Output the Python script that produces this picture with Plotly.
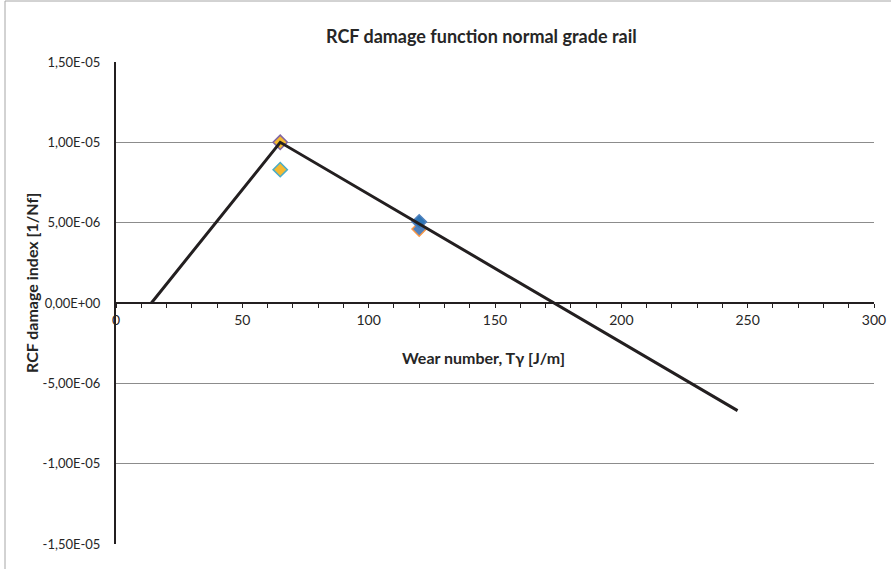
import plotly.graph_objects as go

# Damage function (piecewise linear)
func_x = [14, 65, 246]
func_y = [0.0, 1.0e-5, -6.7e-6]

# Measured points
pts_x = [120, 120, 65, 65]
pts_y = [4.6e-6, 5.05e-6, 8.3e-6, 1.0e-5]
pts_fill = ["#4F81BD", "#2E75B6", "#F5B930", "#F5B930"]
pts_edge = ["#F79646", "#4F81BD", "#4BACC6", "#8064A2"]

x_ticks = [0, 50, 100, 150, 200, 250, 300]
y_ticks = [-1.5e-5, -1.0e-5, -5.0e-6, 0.0, 5.0e-6, 1.0e-5, 1.5e-5]
y_labels = ["-1,50E-05", "-1,00E-05", "-5,00E-06", "0,00E+00", "5,00E-06", "1,00E-05", "1,50E-05"]

FONT = "Lato"
W, H = 891, 569
L, R, T, B = 116, 17, 62, 25
pw, ph = W - L - R, H - T - B

fig = go.Figure()
for x, y, fc, ec in zip(pts_x, pts_y, pts_fill, pts_edge):
    fig.add_trace(go.Scatter(
        x=[x], y=[y], mode="markers", showlegend=False,
        marker=dict(symbol="diamond", size=11, color=fc, line=dict(color=ec, width=1.5)),
    ))
fig.add_trace(go.Scatter(
    x=func_x, y=func_y, mode="lines", showlegend=False,
    line=dict(color="#231F20", width=3),
))

fig.update_layout(
    width=W, height=H,
    margin=dict(l=L, r=R, t=T, b=B, autoexpand=False),
    paper_bgcolor="white", plot_bgcolor="white",
    font=dict(family=FONT, size=13, color="#262626"),
    xaxis=dict(
        range=[0, 300], tickvals=x_ticks, ticktext=[str(v) for v in x_ticks],
        anchor="free", position=0.5,
        showline=True, linecolor="#231F20", linewidth=2,
        ticks="outside", ticklen=4, tickcolor="#231F20", tickwidth=1,
        minor=dict(dtick=10, ticks="outside", ticklen=4, tickcolor="#231F20", tickwidth=1),
        showgrid=False, zeroline=False,
        tickfont=dict(family=FONT, size=14, color="#262626"),
    ),
    yaxis=dict(
        range=[-1.5e-5, 1.5e-5], tickvals=y_ticks, ticktext=y_labels,
        showline=True, linecolor="#231F20", linewidth=2,
        ticks="", ticklabelstandoff=11,
        showgrid=True, gridcolor="#8C8C8C", gridwidth=1,
        zeroline=False,
        tickfont=dict(family=FONT, size=13, color="#262626"),
    ),
    annotations=[
        dict(text="<b>RCF damage function normal grade rail</b>", xref="paper", yref="paper",
             x=(481 - L) / pw, y=(H - B - 36) / ph, xanchor="center", yanchor="middle",
             showarrow=False, font=dict(family=FONT, size=18, color="#262626")),
        dict(text="<b>Wear number, Tγ [J/m]</b>", xref="paper", yref="paper",
             x=(483 - L) / pw, y=(H - B - 357) / ph, xanchor="center", yanchor="middle",
             showarrow=False, font=dict(family=FONT, size=16, color="#262626")),
        dict(text="<b>RCF damage index [1/Nf]</b>", xref="paper", yref="paper",
             x=(31 - L) / pw, y=(H - B - 283) / ph, xanchor="center", yanchor="middle",
             textangle=-90, showarrow=False, font=dict(family=FONT, size=16, color="#262626")),
    ],
    shapes=[
        dict(type="rect", xref="paper", yref="paper", layer="below",
             x0=(5 - L) / pw, x1=(895 - L) / pw, y0=(H - B - 575) / ph, y1=(H - B - 1) / ph,
             line=dict(color="#A6A6A6", width=1), fillcolor="rgba(0,0,0,0)"),
    ],
)

fig.write_html("out.html")
